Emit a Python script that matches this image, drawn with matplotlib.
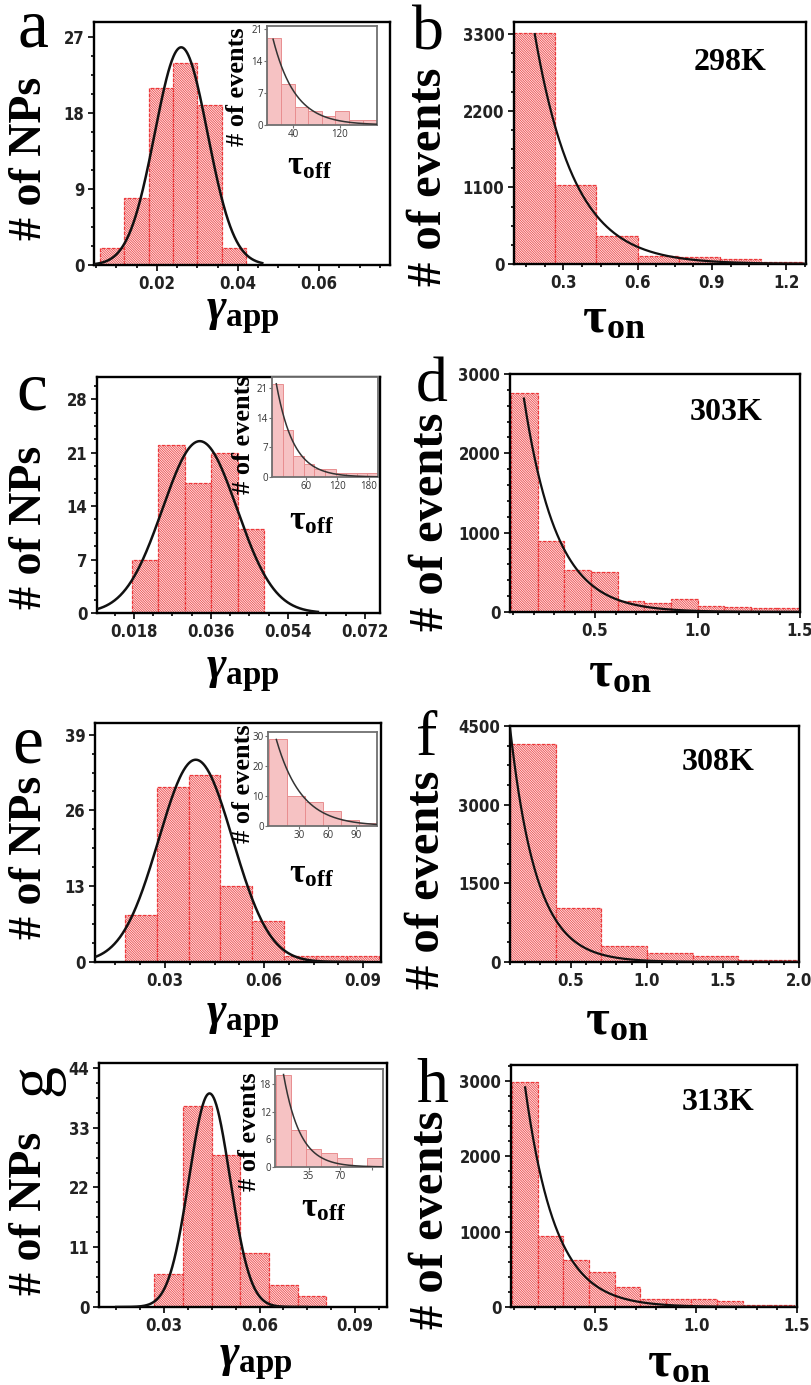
import numpy as np
import matplotlib
matplotlib.use('Agg')
import matplotlib.pyplot as plt

W, H = 811, 1385

plt.rcParams['mathtext.fontset'] = 'custom'
plt.rcParams['mathtext.rm'] = 'Liberation Serif:bold'
plt.rcParams['mathtext.bf'] = 'Liberation Serif:bold'
plt.rcParams['mathtext.it'] = 'Liberation Serif:bold:italic'
plt.rcParams['hatch.linewidth'] = 0.5

SERIF = ['Liberation Serif', 'DejaVu Serif']

# ---- data ----
# left column: gamma_app histograms (# of NPs) + gaussian fit (peak, centre, sigma)
a_edges = [0.006, 0.012, 0.018, 0.024, 0.030, 0.036, 0.042]
a_counts = [2, 8, 21, 24, 19, 2]
a_fit = (25.8, 0.026, 0.0065)

c_edges = [0.0175, 0.0237, 0.0299, 0.0361, 0.0423, 0.0485]
c_counts = [7, 22, 17, 21, 11]
c_fit = (22.5, 0.0334, 0.0087)

e_edges = [0.018, 0.0276, 0.0372, 0.0468, 0.0564, 0.066, 0.0756, 0.0852, 0.0948]
e_counts = [8, 30, 32, 13, 7, 1, 1, 1]
e_fit = (34.7, 0.0393, 0.0112)

g_edges = [0.027, 0.036, 0.045, 0.054, 0.063, 0.072, 0.081]
g_counts = [6, 37, 28, 10, 4, 2]
g_fit = (39.3, 0.0443, 0.0064)

# insets: tau_off histograms (# of events) + exponential (x start, y start, decay)
ia_edges = [-5, 18.5, 42, 65.5, 89, 112.5, 136, 159.5, 183]
ia_counts = [19, 9, 4, 3, 2, 3, 1, 1]
ia_fit = (5, 18.8, 38)

ic_edges = [-6, 14.4, 34.8, 55.2, 75.6, 96, 116.4, 136.8, 157.2, 177.6, 198]
ic_counts = [22, 11, 5, 3, 2, 2, 1, 1, 1, 1]
ic_fit = (2.3, 22, 33)

ie_edges = [-2.5, 16.5, 35.5, 54.5, 73.5, 92.5, 111.5]
ie_counts = [29, 10, 8, 5, 2, 1]
ie_fit = (5.6, 28.9, 26.4)

ig_edges = [-1, 15.7, 32.4, 49.1, 65.8, 82.5, 99.2, 115.9]
ig_counts = [20, 8, 4, 3, 2, 0, 2]
ig_fit = (7.4, 20.1, 18.2)

# right column: tau_on histograms + exponential
b_edges = [0.1, 0.267, 0.433, 0.6, 0.767, 0.933, 1.1, 1.267]
b_counts = [3320, 1130, 400, 110, 100, 70, 35]
b_fit = (0.184, 3300, 0.16)

d_edges = [0.09, 0.22, 0.35, 0.48, 0.61, 0.74, 0.87, 1.0, 1.13, 1.26, 1.39, 1.52]
d_counts = [2760, 900, 530, 510, 140, 115, 170, 70, 63, 50, 50]
d_fit = (0.153, 2690, 0.16)

f_edges = [0.1, 0.4, 0.7, 1.0, 1.3, 1.6, 1.9, 2.2]
f_counts = [4150, 1030, 300, 180, 110, 40, 30]
f_fit = (0.1, 4470, 0.175)

h_edges = [0.088, 0.215, 0.342, 0.469, 0.596, 0.723, 0.85, 0.977, 1.104, 1.231, 1.358, 1.485]
h_counts = [2990, 940, 630, 460, 270, 110, 100, 110, 75, 27, 20]
h_fit = (0.153, 2917, 0.15)

temps = ['298K', '303K', '308K', '313K']
letters = ['a', 'b', 'c', 'd', 'e', 'f', 'g', 'h']

fig = plt.figure(figsize=(W / 100, H / 100), dpi=100)


def box(x0, x1, y0, y1):
    return [x0 / W, 1 - y1 / H, (x1 - x0) / W, (y1 - y0) / H]


def ft(x, y, s, **kw):
    fig.text(x / W, 1 - y / H, s, ha='center', va='center', **kw)


def main_panel(pos, edges, counts, xlim, ylim, xticks, xlabels, yticks):
    ax = fig.add_axes(box(*pos))
    ax.bar(edges[:-1], counts, width=np.diff(edges), align='edge',
           facecolor='#fde3e3', edgecolor='#ec3a3c', linewidth=0.9,
           linestyle=(0, (3, 1)), hatch='\\' * 14, zorder=1)
    ax.set_xlim(*xlim)
    ax.set_ylim(*ylim)
    ax.set_xticks(xticks)
    ax.set_xticklabels(xlabels)
    ax.set_yticks(yticks)
    ax.set_yticklabels([str(v) for v in yticks])
    ax.minorticks_on()
    for s in ax.spines.values():
        s.set_linewidth(1.7)
    ax.tick_params(which='both', direction='out', top=False, right=False, width=1.2)
    ax.tick_params(which='major', length=4, pad=3)
    ax.tick_params(which='minor', length=2.5)
    for lab in ax.get_xticklabels() + ax.get_yticklabels():
        lab.set_fontfamily('DejaVu Sans')
        lab.set_fontstretch('condensed')
        lab.set_fontweight('bold')
        lab.set_fontsize(12)
        lab.set_color('#222222')
    return ax


def inset_panel(pos, edges, counts, xlim, ylim, xticks, xlabels, yticks, fit):
    ax = fig.add_axes(box(*pos))
    ax.set_facecolor('white')
    ax.bar(edges[:-1], counts, width=np.diff(edges), align='edge',
           facecolor='#f6c2c3', edgecolor='#e88e90', linewidth=0.7, zorder=1)
    x0, y0, tau = fit
    xs = np.linspace(x0, xlim[1], 200)
    ax.plot(xs, y0 * np.exp(-(xs - x0) / tau), color='#333333', lw=1.1, zorder=3)
    ax.set_xlim(*xlim)
    ax.set_ylim(*ylim)
    ax.set_xticks(xticks)
    ax.set_xticklabels(xlabels)
    ax.set_yticks(yticks)
    ax.set_yticklabels([str(v) for v in yticks])
    for s in ax.spines.values():
        s.set_linewidth(1.3)
        s.set_color('#707070')
    ax.tick_params(direction='out', length=2, width=0.8, pad=1, colors='#707070',
                   labelsize=7, labelcolor='#333333', top=False, right=False)
    for lab in ax.get_xticklabels() + ax.get_yticklabels():
        lab.set_fontfamily(['Open Sans', 'DejaVu Sans'])
    return ax


def gauss(ax, fit, lo, hi):
    amp, mu, sig = fit
    xs = np.linspace(lo, hi, 400)
    ax.plot(xs, amp * np.exp(-0.5 * ((xs - mu) / sig) ** 2), color='#111111', lw=1.8, zorder=3)


def expo(ax, fit, hi):
    x0, y0, tau = fit
    xs = np.linspace(x0, hi, 400)
    ax.plot(xs, y0 * np.exp(-(xs - x0) / tau), color='#111111', lw=1.6, zorder=3)


# ---- left column ----
ax = main_panel((94, 390, 22, 265), a_edges, a_counts, (0.0045, 0.0775), (0, 28.8),
                [0.02, 0.04, 0.06], ['0.02', '0.04', '0.06'], [0, 9, 18, 27])
gauss(ax, a_fit, 0.004, 0.046)
ax = main_panel((97, 380, 377, 613), c_edges, c_counts, (0.0094, 0.0755), (0, 30.9),
                [0.018, 0.036, 0.054, 0.072], ['0.018', '0.036', '0.054', '0.072'], [0, 7, 14, 21, 28])
gauss(ax, c_fit, 0.0094, 0.061)
ax = main_panel((95, 381, 723, 962), e_edges, e_counts, (0.0088, 0.0954), (0, 41),
                [0.03, 0.06, 0.09], ['0.03', '0.06', '0.09'], [0, 13, 26, 39])
gauss(ax, e_fit, 0.0088, 0.09)
ax = main_panel((99, 387, 1063, 1307), g_edges, g_counts, (0.0096, 0.1), (0, 44.9),
                [0.03, 0.06, 0.09], ['0.03', '0.06', '0.09'], [0, 11, 22, 33, 44])
gauss(ax, g_fit, 0.015, 0.075)

inset_panel((267, 377, 26, 125), ia_edges, ia_counts, (-5.5, 184), (0, 21.7),
            [40, 120], ['40', '120'], [0, 7, 14, 21], ia_fit)
inset_panel((272, 378, 377, 477), ic_edges, ic_counts, (-6, 198), (0, 23.6),
            [60, 120, 180], ['60', '120', '180'], [0, 7, 14, 21], ic_fit)
inset_panel((268, 377, 732, 826), ie_edges, ie_counts, (-3.2, 112), (0, 31.4),
            [30, 60, 90], ['30', '60', '90'], [0, 10, 20, 30], ie_fit)
inset_panel((275, 383, 1069, 1167), ig_edges, ig_counts, (-2, 117), (0, 21.3),
            [35, 70, 105], ['35', '70', ''], [0, 6, 12, 18], ig_fit)

# ---- right column ----
ax = main_panel((514, 806, 22, 264), b_edges, b_counts, (0.1, 1.28), (0, 3475),
                [0.3, 0.6, 0.9, 1.2], ['0.3', '0.6', '0.9', '1.2'], [0, 1100, 2200, 3300])
expo(ax, b_fit, 1.28)
ax = main_panel((510, 800, 374, 612), d_edges, d_counts, (0.085, 1.5), (0, 3000),
                [0.5, 1.0, 1.5], ['0.5', '1.0', '1.5'], [0, 1000, 2000, 3000])
expo(ax, d_fit, 1.5)
ax = main_panel((510, 799, 726, 962), f_edges, f_counts, (0.1, 2.0), (0, 4500),
                [0.5, 1.0, 1.5, 2.0], ['0.5', '1.0', '1.5', '2.0'], [0, 1500, 3000, 4500])
expo(ax, f_fit, 2.0)
ax = main_panel((511, 797, 1065, 1307), h_edges, h_counts, (0.083, 1.5), (0, 3214),
                [0.5, 1.0, 1.5], ['0.5', '1.0', '1.5'], [0, 1000, 2000, 3000])
expo(ax, h_fit, 1.5)

# ---- text ----
for (x, y), t in zip([(730, 63), (726, 412), (718, 763), (718, 1102)], temps):
    ft(x, y, t, fontsize=23, fontweight='bold', family=SERIF)

for (x, y), t in zip([(33, 30), (428, 35), (32, 393), (432, 387),
                      (28, 746), (427, 740), (35, 1080), (432, 1087)], letters):
    ft(x, y, t, fontsize=50 if t in 'ace' else 46, family=SERIF,
       rotation=90 if t == 'g' else 0)

for x, y in [(30, 158), (30, 527), (30, 857), (30, 1213)]:
    ft(x, y, '# of NPs', fontsize=33, fontweight='bold', family=SERIF, rotation=90)
for x, y in [(429, 177), (431, 522), (427, 880), (431, 1220)]:
    ft(x, y, '# of events', fontsize=35, fontweight='bold', family=SERIF, rotation=90)

for x, y in [(243, 313), (243, 672), (243, 1018), (256, 1360)]:
    ft(x, y, r'$\mathit{\gamma}_{\mathbf{app}}$', fontsize=34)
for x, y in [(614, 318), (620, 672), (617, 1020), (679, 1362)]:
    ft(x, y, r'$\mathbf{\tau}_{\mathbf{on}}$', fontsize=37)

for x, y in [(237, 87), (243, 435), (243, 784), (250, 1132)]:
    ft(x, y, '# of events', fontsize=19, fontweight='bold', family=SERIF, rotation=90)
for x, y in [(310, 165), (312, 520), (312, 873), (324, 1207)]:
    ft(x, y, r'$\mathbf{\tau}_{\mathbf{off}}$', fontsize=24)

fig.savefig('out.png', dpi=100)
